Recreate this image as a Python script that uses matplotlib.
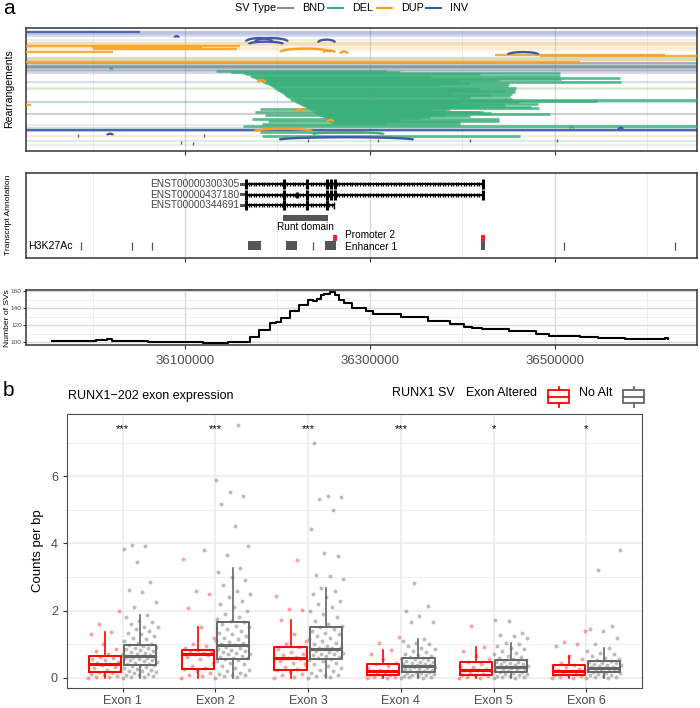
import numpy as np
import matplotlib.pyplot as plt
from matplotlib.patches import Rectangle

plt.rcParams['font.family'] = ['Liberation Sans', 'DejaVu Sans']

W, H = 700, 708
X0, X1 = 35928108, 36653514   # genomic window of panel a (bp)
KB = 1000

COLORS = {'BND': '#8c8c8c', 'DEL': '#3bb07a', 'DUP': '#f6a024', 'INV': '#3f58a8'}
SV_TYPES = ['BND', 'DEL', 'DUP', 'INV']

# ---------------- panel a: rearrangements (kb, rows top -> bottom) ----------------
# events whose both ends fall outside the window
span_row = [31.7, 33.8, 36.0, 39.8, 43.3, 45.3, 48.0, 49.7, 58.3, 60.0, 63.0, 64.6,
            65.8, 67.0, 68.3, 69.6, 70.8, 72.6, 81.7, 88.5, 89.1, 101.8, 102.4,
            114.3, 125.0, 128.3, 130.3, 131.7, 136.0, 141.0, 145.5]
span_type = ['INV', 'INV', 'INV', 'BND', 'DUP', 'DUP', 'DUP', 'DUP', 'DEL', 'DUP', 'BND', 'DEL',
             'BND', 'INV', 'BND', 'INV', 'BND', 'INV', 'INV', 'DUP', 'DEL', 'INV', 'DEL',
             'BND', 'BND', 'DEL', 'INV', 'INV', 'DUP', 'DEL', 'BND']
span_alpha = [0.35, 0.3, 0.2, 0.15, 0.35, 0.3, 0.2, 0.12, 0.3, 0.45, 0.7, 0.35,
              0.55, 0.45, 0.6, 0.3, 0.4, 0.2, 0.2, 0.18, 0.15, 0.18, 0.15,
              0.4, 0.15, 0.3, 0.9, 0.3, 0.2, 0.2, 0.15]

# deletions
del_row = [71.0, 72.2, 73.3, 74.4, 75.5, 76.6, 77.7, 78.8, 79.9, 81.0, 82.1, 83.2,
           84.3, 85.4, 86.5, 87.6, 88.7, 89.8, 90.9, 92.0, 93.1, 94.2, 95.3, 96.4,
           97.5, 98.6, 99.7, 100.8, 101.9, 103.0, 104.1, 105.2, 106.3, 107.4, 108.5,
           109.6, 110.7, 111.8, 112.9, 114.0, 115.1, 116.2, 117.3, 118.4, 119.5, 120.6,
           121.7, 122.8, 109.0, 112.4, 115.6, 118.9, 121.2, 124.0, 126.0, 132.7, 136.0]
del_start = [36134, 36150, 36163, 36166, 36170, 36172, 36176, 36179, 36181, 36183, 36184, 36186,
             36190, 36192, 36194, 36196, 36198, 36200, 36202, 36204, 36206, 36207, 36208, 36209,
             36211, 36213, 36215, 36218, 36220, 36222, 36224, 36226, 36229, 36231, 36233,
             36235, 36237, 36239, 36241, 36243, 36246, 36248, 36250, 36252, 36254, 36256,
             36258, 36260, 36181, 36176, 36186, 36172, 36190, 36183, 36163, 36181, 36183]
del_end = [36317, 36332, 36505, 36419, 36505, 36365, 36570, 36506, 36440, 36397, 36571, 36408,
           36450, 36376, 36449, 36458, 36418, 36457, 36446, 36457, 36386, 36453, 36430, 36451,
           36408, 36453, 36700, 36545, 36462, 36397, 36482, 36446, 36418, 36474, 36483,
           36386, 36382, 36422, 36431, 36495, 36382, 36408, 36365, 36354, 36440, 36332,
           36397, 36317, 36365, 36418, 36354, 36332, 36440, 36397, 36700, 36293, 36462]

# other straight segments
seg_type = ['INV', 'DUP', 'DUP', 'DUP', 'DUP', 'DUP', 'DUP', 'DUP', 'DUP']
seg_start = [35900, 35900, 35999, 36000, 35900, 36435, 36484, 35900, 35900]
seg_end = [36051, 36160, 36118, 36156, 36022, 36619, 36700, 36527, 35933]
seg_row = [31.7, 45.7, 47.3, 48.8, 52.3, 54.6, 56.3, 61.5, 105.0]

# arcs
arc_type = ['INV', 'INV', 'INV', 'INV', 'INV', 'INV', 'DUP', 'DUP', 'DUP', 'DUP',
            'DUP', 'DUP', 'DUP', 'INV', 'DEL', 'DEL', 'INV', 'DEL', 'INV']
arc_start = [36166, 36176, 36169, 36244, 36449, 36089, 36203, 36250, 36268, 36179,
             36220, 36254, 36175, 36202, 36238, 36019, 36016, 36516, 36569]
arc_end = [36194, 36211, 36206, 36262, 36482, 36093, 36257, 36262, 36276, 36187,
           36230, 36260, 36237, 36347, 36315, 36021, 36022, 36520, 36573]
arc_row = [41.5, 41.5, 44.0, 42.5, 54.5, 37.5, 52.0, 52.5, 53.5, 82.5,
           111.5, 122.0, 131.5, 140.0, 134.5, 69.5, 135.5, 128.8, 129.8]
arc_h = [3.5, 3.5, 2.5, 3.0, 2.5, 1.5, 3.5, 2.0, 2.0, 2.5,
         2.0, 2.0, 2.5, 2.5, 2.0, 1.5, 1.5, 2.0, 2.0]

# single breakends
bnd_pos = [35984, 36121, 36096, 36109, 36233, 36309, 36408, 36502]
bnd_row = [135.5, 136.0, 143.0, 143.5, 141.0, 141.0, 141.0, 141.0]

# ---------------- panel a: transcripts ----------------
tx_name = ['ENST00000300305', 'ENST00000437180', 'ENST00000344691']
tx_start = [36166, 36166, 36166]
tx_end = [36422, 36422, 36261]
tx_exons = [[36166, 36207, 36232, 36253, 36257.5, 36262, 36422],
            [36166, 36207, 36232, 36253, 36257.5, 36262, 36422],
            [36166, 36207, 36232, 36253]]
tx_small_exon = [None, 36221, 36261]
runt_start, runt_end = 36206, 36255
h3_thin = [35988, 36043, 36064, 36238, 36510, 36630]
h3_start = [36168, 36209, 36251, 36420.5]
h3_end = [36182, 36221, 36263, 36424]
red_start = [36260.5, 36420.5]
red_end = [36264.5, 36424]

# ---------------- panel a: SV count along the window ----------------
cnt_pos = [35956, 35997, 36004, 36016, 36021, 36030, 36050, 36060, 36083, 36090, 36112,
           36120, 36130, 36146, 36163, 36170, 36180, 36192, 36198, 36204, 36214, 36219,
           36223, 36233, 36238, 36243, 36247, 36250, 36257, 36262, 36266, 36272, 36281,
           36290, 36296, 36303, 36334, 36363, 36387, 36402, 36410, 36421, 36450, 36479,
           36494, 36510, 36527, 36547, 36576, 36610, 36619, 36622]
cnt_val = [101, 101, 102, 103, 101.6, 101, 100.8, 100.4, 99.6, 99.8, 99.6,
           98.8, 99.2, 99.6, 100, 106, 114, 122, 124, 128, 136, 137,
           144, 149, 148, 151, 155, 157, 158.5, 155, 150, 146, 140,
           140, 137, 133, 130, 125, 121, 118, 116, 114.8, 112.8, 110,
           107.6, 107, 106, 104.8, 103.6, 103.6, 105.2, 103.6]

# ---------------- panel b: RUNX1-202 exon expression ----------------
exons = ['Exon 1', 'Exon 2', 'Exon 3', 'Exon 4', 'Exon 5', 'Exon 6']
signif = ['***', '***', '***', '***', '*', '*']

alt_q1 = [0.17, 0.28, 0.25, 0.08, 0.08, 0.08]
alt_med = [0.42, 0.71, 0.60, 0.20, 0.25, 0.22]
alt_q3 = [0.66, 0.84, 0.91, 0.41, 0.46, 0.37]
alt_hi = [1.38, 1.50, 1.72, 0.84, 0.92, 0.66]
alt_lo = [0, 0, 0, 0, 0, 0]
noalt_q1 = [0.37, 0.56, 0.56, 0.17, 0.17, 0.18]
noalt_med = [0.64, 0.99, 0.87, 0.34, 0.33, 0.30]
noalt_q3 = [0.99, 1.66, 1.51, 0.59, 0.52, 0.49]
noalt_hi = [1.87, 3.27, 2.68, 1.17, 1.05, 0.89]
noalt_lo = [0, 0, 0, 0, 0, 0]

alt_pts = [
    [0.0, 0.02, 0.03, 0.05, 0.08, 0.12, 0.15, 0.17, 0.2, 0.25, 0.3, 0.33, 0.38, 0.4, 0.42,
     0.45, 0.48, 0.52, 0.55, 0.6, 0.62, 0.66, 0.7, 0.8, 0.85, 1.02, 1.3, 1.38, 1.6, 2.0],
    [0.0, 0.05, 0.1, 0.15, 0.22, 0.28, 0.3, 0.35, 0.45, 0.55, 0.62, 0.68, 0.7, 0.71, 0.73,
     0.76, 0.8, 0.84, 0.9, 0.95, 1.0, 1.2, 1.5, 2.07, 2.5, 2.58, 3.55, 3.8],
    [0.0, 0.03, 0.08, 0.12, 0.18, 0.25, 0.28, 0.33, 0.4, 0.45, 0.5, 0.55, 0.58, 0.6, 0.63,
     0.68, 0.72, 0.78, 0.85, 0.91, 1.0, 1.1, 1.3, 1.72, 2.02, 2.05, 2.45, 3.52],
    [0.0, 0.01, 0.02, 0.04, 0.06, 0.08, 0.1, 0.12, 0.15, 0.18, 0.2, 0.22, 0.25, 0.3, 0.35,
     0.41, 0.45, 0.55, 0.7, 0.84, 1.03, 1.23],
    [0.0, 0.01, 0.03, 0.05, 0.08, 0.1, 0.13, 0.16, 0.2, 0.23, 0.25, 0.28, 0.32, 0.36, 0.4,
     0.46, 0.55, 0.65, 0.8, 0.92, 1.55],
    [0.0, 0.01, 0.03, 0.05, 0.08, 0.1, 0.13, 0.16, 0.19, 0.22, 0.25, 0.28, 0.31, 0.34, 0.37,
     0.45, 0.55, 0.66, 0.94, 1.01, 1.08, 1.41],
]
noalt_pts = [
    [0.0, 0.02, 0.04, 0.06, 0.08, 0.1, 0.12, 0.15, 0.18, 0.2, 0.22, 0.25, 0.28, 0.3, 0.32,
     0.35, 0.37, 0.38, 0.4, 0.42, 0.45, 0.47, 0.5, 0.52, 0.54, 0.56, 0.58, 0.6, 0.62, 0.63,
     0.64, 0.65, 0.67, 0.7, 0.72, 0.75, 0.78, 0.8, 0.82, 0.85, 0.88, 0.9, 0.93, 0.96, 0.99,
     1.02, 1.05, 1.1, 1.15, 1.2, 1.25, 1.3, 1.35, 1.4, 1.45, 1.5, 1.52, 1.6, 1.65, 1.7, 1.8,
     1.87, 2.1, 2.25, 2.55, 2.62, 2.85, 3.45, 3.82, 3.92, 3.95],
    [0.0, 0.02, 0.05, 0.08, 0.1, 0.12, 0.15, 0.2, 0.25, 0.3, 0.35, 0.4, 0.45, 0.5, 0.53,
     0.56, 0.58, 0.6, 0.63, 0.66, 0.7, 0.72, 0.75, 0.78, 0.8, 0.83, 0.86, 0.9, 0.93, 0.96,
     0.99, 1.0, 1.03, 1.06, 1.1, 1.15, 1.2, 1.25, 1.3, 1.35, 1.4, 1.45, 1.5, 1.55, 1.6, 1.66,
     1.7, 1.75, 1.8, 1.9, 2.0, 2.1, 2.2, 2.3, 2.4, 2.5, 2.6, 2.75, 2.9, 3.0, 3.15, 3.27,
     3.65, 3.92, 4.51, 5.16, 5.4, 5.52, 5.88, 7.53],
    [0.0, 0.02, 0.05, 0.08, 0.1, 0.15, 0.2, 0.25, 0.3, 0.35, 0.4, 0.45, 0.5, 0.53, 0.56,
     0.6, 0.62, 0.65, 0.68, 0.7, 0.72, 0.75, 0.78, 0.8, 0.83, 0.85, 0.87, 0.88, 0.9, 0.93,
     0.96, 1.0, 1.05, 1.1, 1.15, 1.2, 1.25, 1.3, 1.35, 1.4, 1.45, 1.51, 1.55, 1.6, 1.7, 1.8,
     1.9, 2.0, 2.1, 2.2, 2.3, 2.4, 2.5, 2.6, 2.68, 2.93, 3.02, 3.07, 3.62, 3.71, 4.43, 5.0,
     5.32, 5.39, 5.42, 7.0],
    [0.0, 0.01, 0.02, 0.03, 0.05, 0.06, 0.08, 0.1, 0.12, 0.14, 0.15, 0.17, 0.18, 0.2, 0.22,
     0.24, 0.25, 0.27, 0.28, 0.3, 0.31, 0.33, 0.34, 0.35, 0.37, 0.38, 0.4, 0.42, 0.44, 0.46,
     0.48, 0.5, 0.52, 0.55, 0.57, 0.59, 0.62, 0.65, 0.68, 0.72, 0.76, 0.8, 0.85, 0.9, 0.95,
     1.0, 1.05, 1.1, 1.17, 1.65, 1.67, 1.85, 2.0, 2.14, 2.83],
    [0.0, 0.01, 0.02, 0.04, 0.05, 0.07, 0.09, 0.11, 0.13, 0.15, 0.17, 0.18, 0.2, 0.22, 0.24,
     0.26, 0.28, 0.3, 0.31, 0.33, 0.34, 0.36, 0.38, 0.4, 0.42, 0.44, 0.46, 0.48, 0.5, 0.52,
     0.55, 0.58, 0.62, 0.66, 0.7, 0.75, 0.8, 0.85, 0.9, 0.95, 1.0, 1.05, 1.2, 1.25, 1.28,
     1.35, 1.7, 1.72],
    [0.0, 0.01, 0.02, 0.04, 0.06, 0.08, 0.1, 0.12, 0.14, 0.16, 0.18, 0.2, 0.22, 0.24, 0.26,
     0.27, 0.28, 0.3, 0.31, 0.33, 0.35, 0.37, 0.39, 0.41, 0.43, 0.45, 0.47, 0.49, 0.52, 0.55,
     0.6, 0.65, 0.7, 0.75, 0.8, 0.89, 1.0, 1.2, 1.4, 1.45, 1.53, 3.2, 3.79],
]


def px_axes(fig, left, top, right, bottom):
    """axes from a pixel box (origin top-left)"""
    return fig.add_axes([left / W, 1 - bottom / H, (right - left) / W, (bottom - top) / H])


def genome_grid(ax):
    for x in [36000000, 36200000, 36400000, 36600000]:
        ax.axvline(x, color='#ebebeb', lw=0.6, zorder=0)
    for x in [36100000, 36300000, 36500000]:
        ax.axvline(x, color='#dadada', lw=1.0, zorder=0)
    ax.set_xlim(X0, X1)
    ax.set_xticks([36100000, 36300000, 36500000])
    ax.tick_params(axis='x', length=3, width=0.8, color='#333333')
    for s in ax.spines.values():
        s.set_color('#333333')
        s.set_linewidth(1.1)


def draw_arc(ax, a, b, row, h, color, lw=1.7):
    t = np.linspace(0, np.pi, 30)
    xs = a + (b - a) * (1 - np.cos(t)) / 2
    ys = row - h * np.sin(t)
    ax.plot(xs, ys, color=color, lw=lw, solid_capstyle='butt', zorder=4)


def jitter(n, width):
    k = np.arange(n)
    return ((k * 0.6180339887) % 1.0 - 0.5) * width


fig = plt.figure(figsize=(W / 100, H / 100), dpi=100)

# ---- rearrangements ----
ax_r = px_axes(fig, 26, 27.7, 697, 151)
genome_grid(ax_r)
ax_r.set_xticklabels([])
ax_r.set_yticks([])
ax_r.set_ylim(151.3, 27.5)
for r, t, a in zip(span_row, span_type, span_alpha):
    ax_r.hlines(r, X0 - 1e5, X1 + 1e5, color=COLORS[t], alpha=a, lw=1.6, zorder=2)
for r, s, e in zip(del_row, del_start, del_end):
    ax_r.hlines(r, s * KB, e * KB, color=COLORS['DEL'], alpha=0.85, lw=1.9, zorder=3)
for t, s, e, r in zip(seg_type, seg_start, seg_end, seg_row):
    ax_r.hlines(r, s * KB, e * KB, color=COLORS[t], alpha=0.85, lw=1.7, zorder=3)
for t, s, e, r, h in zip(arc_type, arc_start, arc_end, arc_row, arc_h):
    draw_arc(ax_r, s * KB, e * KB, r, h, COLORS[t])
for p, r in zip(bnd_pos, bnd_row):
    ax_r.vlines(p * KB, r - 1.3, r + 1.3, color='#666666', lw=1.0, zorder=4)

# ---- transcript annotation ----
ax_t = px_axes(fig, 26, 173, 697, 257.7)
genome_grid(ax_t)
ax_t.set_xticklabels([])
ax_t.set_yticks([])
ax_t.set_ylim(257.7, 173)
for i, name in enumerate(tx_name):
    row = 184.3 + i * 10.5
    s, e = tx_start[i] * KB, tx_end[i] * KB
    ax_t.add_patch(Rectangle((s - 7000, row - 1.5), 7000, 3, color='#555555', lw=0))
    ax_t.plot([s, e], [row, row], color='black', lw=1.4, zorder=3)
    ticks = np.arange(s + 2800, e - 1000, 2800)
    ax_t.plot(ticks, np.full(len(ticks), row), ls='none', marker='|', ms=3.5,
              mew=1.0, color='black', zorder=3)
    ax_t.vlines(np.array(tx_exons[i]) * KB, row - 5, row + 5, color='black', lw=2.2, zorder=4)
    if tx_small_exon[i] is not None:
        ax_t.vlines(tx_small_exon[i] * KB, row - 3.2, row + 3.2, color='black',
                    lw=2.0 if i == 1 else 1.0, zorder=4)
    ax_t.text(s - 7800, row, name, ha='right', va='center', fontsize=7.3, color='#444444')
ax_t.add_patch(Rectangle((runt_start * KB, 215), (runt_end - runt_start) * KB, 5.5,
                         color='#555555', lw=0))
ax_t.text((runt_start + runt_end) / 2 * KB, 227.5, 'Runt domain', ha='center', va='center',
          fontsize=7.2, color='black')
ax_t.vlines(np.array(h3_thin) * KB, 242, 249.5, color='#555555', lw=0.9)
for s, e in zip(h3_start, h3_end):
    ax_t.add_patch(Rectangle((s * KB, 241.3), (e - s) * KB, 8.7, color='#555555', lw=0))
for s, e in zip(red_start, red_end):
    ax_t.add_patch(Rectangle((s * KB, 235), (e - s) * KB, 6.3, color='#ff2020', lw=0))
ax_t.text(36273 * KB, 234.5, 'Promoter 2', ha='left', va='center', fontsize=7.3)
ax_t.text(36273 * KB, 246.5, 'Enhancer 1', ha='left', va='center', fontsize=7.3)
ax_t.text(35930 * KB, 246, 'H3K27Ac', ha='left', va='center', fontsize=7.6)

# ---- number of SVs ----
ax_c = px_axes(fig, 26, 290, 697, 345)
genome_grid(ax_c)
ax_c.set_ylim(96.5, 161.2)
ax_c.set_yticks([100, 120, 140, 160])
for y in [110, 130, 150]:
    ax_c.axhline(y, color='#ebebeb', lw=0.6, zorder=0)
for y in [100, 120, 140, 160]:
    ax_c.axhline(y, color='#dadada', lw=1.0, zorder=0)
ax_c.plot(np.array(cnt_pos) * KB, cnt_val, color='black', lw=1.5, drawstyle='steps-post',
          zorder=3)
ax_c.set_xticklabels(['36100000', '36300000', '36500000'])
ax_c.tick_params(axis='x', labelsize=9.5, labelcolor='#4d4d4d', pad=4)
ax_c.tick_params(axis='y', labelsize=4.6, labelcolor='#4d4d4d', length=2, pad=1,
                 color='#333333')

# ---- panel b ----
ax_b = px_axes(fig, 67, 414, 642, 688)
pos = np.arange(1, len(exons) + 1)
ax_b.set_xlim(0.4, 6.6)
ax_b.set_ylim(-0.3, 7.85)
for y in [1, 3, 5, 7]:
    ax_b.axhline(y, color='#ebebeb', lw=0.6, zorder=0)
for y in [0, 2, 4, 6]:
    ax_b.axhline(y, color='#ebebeb', lw=1.1, zorder=0)
for x in pos:
    ax_b.axvline(x, color='#ebebeb', lw=1.1, zorder=0)

for i in range(len(exons)):
    ya = alt_pts[i]
    ax_b.scatter(pos[i] - 0.19 + jitter(len(ya), 0.36), ya, s=8, color='#ff3030',
                 alpha=0.45, lw=0, zorder=2)
    yn = noalt_pts[i]
    ax_b.scatter(pos[i] + 0.19 + jitter(len(yn), 0.38), yn, s=8, color='#7a7a7a',
                 alpha=0.5, lw=0, zorder=2)

alt_stats = [dict(med=m, q1=a, q3=b, whislo=lo, whishi=hi, fliers=[])
             for m, a, b, lo, hi in zip(alt_med, alt_q1, alt_q3, alt_lo, alt_hi)]
noalt_stats = [dict(med=m, q1=a, q3=b, whislo=lo, whishi=hi, fliers=[])
               for m, a, b, lo, hi in zip(noalt_med, noalt_q1, noalt_q3, noalt_lo, noalt_hi)]
for stats, off, col in [(alt_stats, -0.19, '#ff0000'), (noalt_stats, 0.19, '#666666')]:
    ax_b.bxp(stats, positions=pos + off, widths=0.35, showcaps=False, showfliers=False,
             boxprops=dict(color=col, lw=1.4), whiskerprops=dict(color=col, lw=1.2),
             medianprops=dict(color=col, lw=2.2), manage_ticks=False, zorder=3)

for x, s in zip(pos, signif):
    ax_b.text(x, 7.4, s, ha='center', va='center', fontsize=8)

ax_b.set_xticks(pos)
ax_b.set_xticklabels(exons)
ax_b.set_yticks([0, 2, 4, 6])
ax_b.tick_params(labelsize=9, labelcolor='#4d4d4d', length=3, color='#333333')
ax_b.tick_params(axis='x', pad=2)
ax_b.set_ylabel('Counts per bp', fontsize=9.5, labelpad=5)
for s in ax_b.spines.values():
    s.set_color('#4d4d4d')
    s.set_linewidth(0.8)

# ---- figure level text, legends ----
ov = fig.add_axes([0, 0, 1, 1], zorder=10)
ov.set_xlim(0, W)
ov.set_ylim(H, 0)
ov.axis('off')
ov.patch.set_alpha(0)

ov.text(3, 8, 'a', fontsize=15, ha='left', va='center')
ov.text(3, 391, 'b', fontsize=15, ha='left', va='center')
ov.text(9, 89, 'Rearrangements', rotation=90, fontsize=7.6, ha='center', va='center')
ov.text(9, 215, 'Transcript Annotation', rotation=90, fontsize=6.1, ha='center', va='center')
ov.text(8, 318, 'Number of SVs', rotation=90, fontsize=6.1, ha='center', va='center')

# SV type legend
ov.text(235, 8, 'SV Type', fontsize=7.8, ha='left', va='center')
key_x = [278, 328, 377, 426]
for kx, t in zip(key_x, SV_TYPES):
    ov.plot([kx, kx + 15], [8, 8], color=COLORS[t], lw=1.5)
    ov.text(kx + 24, 8, t, fontsize=7.8, ha='left', va='center')

# panel b title and legend
ov.text(68, 396, 'RUNX1\u2212202 exon expression', fontsize=9, ha='left', va='center')
ov.text(392, 393, 'RUNX1 SV', fontsize=9, ha='left', va='center')
ov.text(466, 393, 'Exon Altered', fontsize=9, ha='left', va='center')
ov.text(579, 393, 'No Alt', fontsize=9, ha='left', va='center')
for bx, col in [(548, '#ff0000'), (623, '#666666')]:
    ov.add_patch(Rectangle((bx, 390), 21, 13, fill=False, ec=col, lw=1.3))
    ov.plot([bx, bx + 21], [396.5, 396.5], color=col, lw=1.3)
    ov.plot([bx + 10.5, bx + 10.5], [386.5, 390], color=col, lw=1.3)
    ov.plot([bx + 10.5, bx + 10.5], [403, 406.5], color=col, lw=1.3)

fig.savefig('out.png', dpi=100)
